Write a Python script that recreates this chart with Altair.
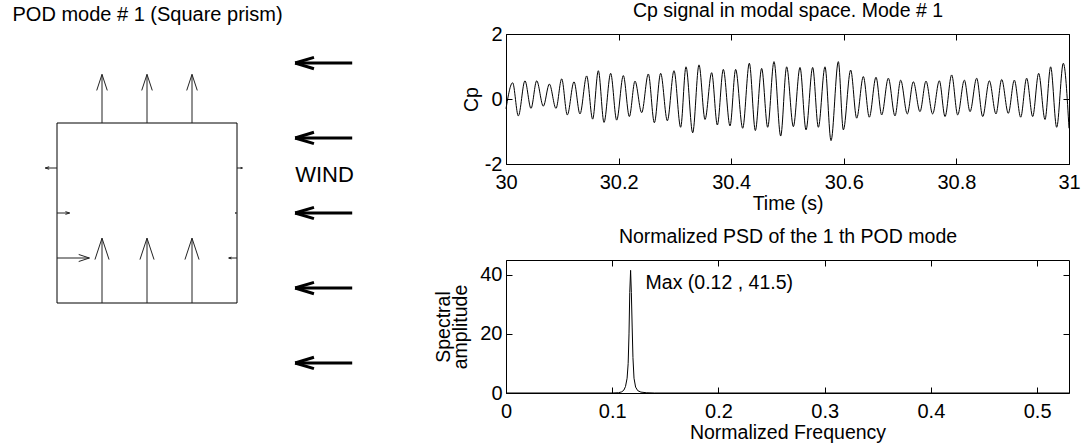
import altair as alt
import pandas as pd

FONT = "Liberation Sans"
INK = "black"

# canvas and panel geometry (pixels)
W, H = 1083, 446
PLOT_L, PLOT_R = 506, 1069
CP_TOP, CP_BOT = 34, 164
PSD_TOP, PSD_BOT = 260, 393
SQ_L, SQ_R, SQ_TOP, SQ_BOT = 57, 237, 123, 303

# ---------------------------------------------------------------
# Cp of POD mode 1 in modal space: crests and troughs of the signal
# ---------------------------------------------------------------
cp_time = [30.0000, 30.0118, 30.0219, 30.0337, 30.0444, 30.0545, 30.0663, 30.0770,
           30.0888, 30.0989, 30.1089, 30.1208, 30.1314, 30.1433, 30.1539, 30.1640,
           30.1741, 30.1859, 30.1966, 30.2084, 30.2191, 30.2291, 30.2410, 30.2528,
           30.2635, 30.2747, 30.2866, 30.2984, 30.3102, 30.3197, 30.3316, 30.3428,
           30.3535, 30.3653, 30.3754, 30.3860, 30.3979, 30.4079, 30.4204, 30.4322,
           30.4429, 30.4541, 30.4648, 30.4760, 30.4879, 30.4985, 30.5104, 30.5222,
           30.5329, 30.5447, 30.5548, 30.5666, 30.5773, 30.5903, 30.5992, 30.6122,
           30.6229, 30.6347, 30.6453, 30.6572, 30.6673, 30.6791, 30.6909, 30.7010,
           30.7128, 30.7235, 30.7353, 30.7460, 30.7578, 30.7697, 30.7798, 30.7916,
           30.8023, 30.8141, 30.8242, 30.8360, 30.8467, 30.8585, 30.8703, 30.8804,
           30.8922, 30.9029, 30.9142, 30.9248, 30.9355, 30.9461, 30.9574, 30.9674,
           30.9781, 30.9899, 31.0000]
cp_value = [-0.30,
            0.50, -0.52, 0.56, -0.29, 0.56, -0.22, 0.46, -0.29, 0.62, -0.49,
            0.53, -0.46, 0.71, -0.62, 0.87, -0.72, 0.79, -0.65, 0.72, -0.54,
            0.55, -0.42, 0.77, -0.73, 0.79, -0.67, 0.87, -0.87, 0.99, -1.04,
            1.05, -0.63, 0.81, -0.80, 0.91, -0.83, 0.91, -0.90, 1.10, -0.97,
            0.94, -0.87, 1.15, -1.14, 0.99, -0.85, 0.97, -0.95, 0.97, -0.87,
            0.99, -1.28, 1.15, -0.95, 0.89, -0.59, 0.69, -0.56, 0.67, -0.49,
            0.64, -0.52, 0.58, -0.46, 0.53, -0.39, 0.55, -0.46, 0.56, -0.54,
            0.74, -0.49, 0.58, -0.39, 0.64, -0.54, 0.56, -0.46, 0.60, -0.44,
            0.58, -0.56, 0.64, -0.54, 0.79, -0.63, 0.99, -0.87,
            1.10, -0.90]

# Normalized PSD of the first POD mode
psd_freq = [0.0, 0.100, 0.106, 0.109, 0.111, 0.1125, 0.1140, 0.1150, 0.1158,
            0.1165, 0.1173, 0.1180, 0.1188, 0.1195, 0.1205, 0.1220, 0.1240,
            0.1270, 0.1320, 0.1400, 0.53]
psd_amp = [0.0, 0.0, 0.1, 0.4, 1.0, 2.2, 5.0, 10.0, 20.0,
           34.0, 41.5, 34.0, 22.0, 12.0, 5.0, 2.0, 0.8,
           0.3, 0.1, 0.0, 0.0]

time_ticks = [30, 30.2, 30.4, 30.6, 30.8, 31]
cp_ticks = [-2, 0, 2]
freq_ticks = [0, 0.1, 0.2, 0.3, 0.4, 0.5]
amp_ticks = [0, 20, 40]

# POD mode shape on the square prism (side = 1): taps and normal components
tap_x = [0.25, 0.50, 0.75, 0.25, 0.50, 0.75, 0.0, 0.0, 0.0, 1.0, 1.0, 1.0]
tap_y = [1.0, 1.0, 1.0, 0.0, 0.0, 0.0, 0.75, 0.50, 0.25, 0.75, 0.50, 0.25]
mode_u = [0.0, 0.0, 0.0, 0.0, 0.0, 0.0, -0.065, 0.07, 0.18, 0.03, -0.01, -0.046]
mode_v = [0.27, 0.27, 0.27, 0.36, 0.36, 0.36, 0.0, 0.0, 0.0, 0.0, 0.0, 0.0]

# incoming wind arrows (blowing from right to left)
wind_y = [1.333, 0.917, 0.5, 0.083, -0.333]
wind_tail_x = 1.64
wind_head_x = 1.323


def arrow_segments(x0, y0, u, v, alpha=0.33, beta=0.33):
    """Shaft plus two head strokes per vector, quiver style."""
    rows = []
    for xs, ys, du, dv in zip(x0, y0, u, v):
        xt, yt = xs + du, ys + dv
        rows.append((xs, ys, xt, yt))
        rows.append((xt, yt, xt - alpha * (du + beta * dv), yt - alpha * (dv - beta * du)))
        rows.append((xt, yt, xt - alpha * (du - beta * dv), yt - alpha * (dv + beta * du)))
    return pd.DataFrame(rows, columns=["x", "y", "x2", "y2"])


LABEL_EXPR = "toString(datum.value)"


def boxed_plot(base, xf, yf, xscale, yscale, xticks, yticks, top, bottom,
               xtitle, ytitle, title, ytitle_pad):
    """Data layer with labelled axes plus two invisible layers drawing the
    closed frame and the inward ticks on all four sides."""
    labelled = base.encode(
        x=alt.X(xf, scale=xscale, axis=alt.Axis(
            orient="bottom", offset=bottom - H, values=xticks, labelExpr=LABEL_EXPR,
            ticks=False, tickSize=0, domain=True, labelPadding=8, labelFlush=False,
            labelOverlap=False, title=xtitle, titlePadding=2, grid=False)),
        y=alt.Y(yf, scale=yscale, axis=alt.Axis(
            orient="left", offset=-PLOT_L, values=yticks, labelExpr=LABEL_EXPR,
            ticks=False, tickSize=0, domain=True, labelPadding=4, labelOverlap=False,
            title=ytitle, titlePadding=ytitle_pad, titleLineHeight=17, minExtent=0,
            grid=False)),
    )
    ghost = base.mark_point(opacity=0, size=1)
    inner_ticks = ghost.encode(
        x=alt.X(xf, scale=xscale, axis=alt.Axis(
            orient="top", offset=-bottom, values=xticks, ticks=True, tickSize=6,
            labels=False, domain=False, title="", grid=False)),
        y=alt.Y(yf, scale=yscale, axis=alt.Axis(
            orient="right", offset=PLOT_L - W, values=yticks, ticks=True, tickSize=6,
            labels=False, domain=False, title="", grid=False)),
    )
    far_sides = ghost.encode(
        x=alt.X(xf, scale=xscale, axis=alt.Axis(
            orient="bottom", offset=top - H, values=xticks, ticks=True, tickSize=6,
            labels=False, domain=True, title=title, titleY=-17.5,
            titleBaseline="alphabetic", grid=False)),
        y=alt.Y(yf, scale=yscale, axis=alt.Axis(
            orient="left", offset=-PLOT_R, values=yticks, ticks=True, tickSize=6,
            labels=False, domain=True, title="", grid=False)),
    )
    return [labelled, inner_ticks, far_sides]


# ---------------- Cp signal panel ----------------
cp_df = pd.DataFrame({"t": cp_time, "cp": cp_value})
cp_x = alt.Scale(domain=[30, 31], range=[PLOT_L, PLOT_R], nice=False, zero=False)
cp_y = alt.Scale(domain=[-2, 2], range=[CP_BOT, CP_TOP], nice=False, zero=False)
cp_line = alt.Chart(cp_df).mark_line(color=INK, strokeWidth=1, interpolate="monotone")
cp_panel = alt.layer(*boxed_plot(
    cp_line, "t:Q", "cp:Q", cp_x, cp_y, time_ticks, cp_ticks, CP_TOP, CP_BOT,
    "Time (s)", "Cp", "Cp signal in modal space. Mode # 1", 3,
)).resolve_axis(x="independent", y="independent")

# ---------------- PSD panel ----------------
psd_df = pd.DataFrame({"f": psd_freq, "a": psd_amp})
psd_x = alt.Scale(domain=[0, 0.53], range=[PLOT_L, PLOT_R], nice=False, zero=False)
psd_y = alt.Scale(domain=[0, 45], range=[PSD_BOT, PSD_TOP], nice=False, zero=False)
psd_line = alt.Chart(psd_df).mark_line(color=INK, strokeWidth=1)
peak = psd_df.loc[psd_df["a"].idxmax()]
peak_df = pd.DataFrame({
    "f": [peak["f"]], "a": [peak["a"]],
    "label": [f"Max ({peak['f']:.2f} , {peak['a']:.1f})"],
})
peak_label = alt.Chart(peak_df).mark_text(
    align="left", baseline="middle", dx=15, dy=13, font=FONT, fontSize=19.5, color=INK
).encode(
    x=alt.X("f:Q", scale=psd_x, axis=None),
    y=alt.Y("a:Q", scale=psd_y, axis=None),
    text="label:N",
)
psd_panel = alt.layer(*boxed_plot(
    psd_line, "f:Q", "a:Q", psd_x, psd_y, freq_ticks, amp_ticks, PSD_TOP, PSD_BOT,
    "Normalized Frequency", ["Spectral", "amplitude"],
    "Normalized PSD of the 1 th POD mode", 9,
), peak_label).resolve_axis(x="independent", y="independent")

# ---------------- prism diagram ----------------
dx = alt.Scale(domain=[0, 1], range=[SQ_L, SQ_R], nice=False, zero=False)
dy = alt.Scale(domain=[0, 1], range=[SQ_BOT, SQ_TOP], nice=False, zero=False)

prism_df = pd.DataFrame({"x": [0.0], "x2": [1.0], "y": [0.0], "y2": [1.0]})
prism = alt.Chart(prism_df).mark_rect(
    fillOpacity=0, stroke=INK, strokeWidth=1
).encode(
    x=alt.X("x:Q", scale=dx, axis=None),
    x2="x2:Q",
    y=alt.Y("y:Q", scale=dy, axis=None),
    y2="y2:Q",
)

# invisible layer whose top axis carries the diagram heading
heading = alt.Chart(prism_df).mark_point(opacity=0, size=1).encode(
    x=alt.X("x:Q", scale=dx, axis=alt.Axis(
        orient="top", offset=0, domain=False, ticks=True, tickSize=0,
        labels=False, grid=False, values=[0],
        title="POD mode # 1 (Square prism)", titleX=12, titleY=20, titleAlign="left",
        titleBaseline="alphabetic", titleFontSize=20)),
    y=alt.Y("y:Q", scale=dy, axis=None),
)

quiver_df = arrow_segments(tap_x, tap_y, mode_u, mode_v)
quiver = alt.Chart(quiver_df).mark_rule(color="#222222", strokeWidth=1).encode(
    x=alt.X("x:Q", scale=dx, axis=None),
    y=alt.Y("y:Q", scale=dy, axis=None),
    x2="x2:Q",
    y2="y2:Q",
)

n_wind = len(wind_y)
wind_df = arrow_segments([wind_tail_x] * n_wind, wind_y,
                         [wind_head_x - wind_tail_x] * n_wind, [0.0] * n_wind,
                         alpha=0.33, beta=0.3)
wind = alt.Chart(wind_df).mark_rule(color=INK, strokeWidth=3).encode(
    x=alt.X("x:Q", scale=dx, axis=None),
    y=alt.Y("y:Q", scale=dy, axis=None),
    x2="x2:Q",
    y2="y2:Q",
)

wind_label_df = pd.DataFrame({
    "x": [wind_head_x],
    "y": [(wind_y[1] + wind_y[2]) / 2],
    "label": ["WIND"],
})
wind_label = alt.Chart(wind_label_df).mark_text(
    align="left", baseline="middle", font=FONT, fontSize=22, color=INK
).encode(
    x=alt.X("x:Q", scale=dx, axis=None),
    y=alt.Y("y:Q", scale=dy, axis=None),
    text="label:N",
)

diagram = alt.layer(heading, prism, quiver, wind, wind_label).resolve_axis(
    x="independent", y="independent"
)

chart = alt.layer(diagram, cp_panel, psd_panel).resolve_scale(
    x="independent", y="independent"
).properties(
    width=W, height=H, padding=0,
    autosize=alt.AutoSizeParams(type="none"),
).configure_view(stroke=None).configure_axis(
    grid=False, labelFont=FONT, titleFont=FONT, labelFontSize=20, titleFontSize=19.5,
    labelColor=INK, titleColor=INK, domainColor=INK, tickColor=INK,
    titleFontWeight="normal", domainWidth=1, tickWidth=1,
)

chart.save("out.html", embed_options={"renderer": "svg", "actions": False})
